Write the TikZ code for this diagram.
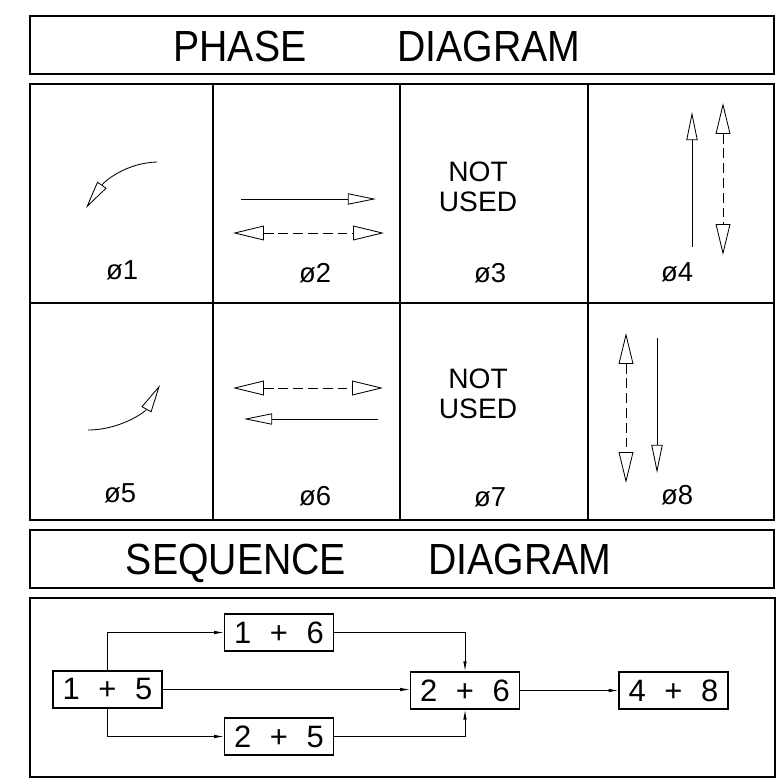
\documentclass[tikz,border=0pt]{standalone}
\usepackage{fontspec}
\setmainfont{Liberation Sans}
\newfontfamily\titlefont[FakeStretch=0.9]{Liberation Sans}
\usetikzlibrary{arrows.meta, positioning}

\tikzset{
  bigtip/.tip={Triangle[open,length=22pt,width=10.5pt]},
  smalltip/.tip={Triangle[open,length=20pt,width=8pt]},
  frame/.style={line width=1.2pt},
  oneway/.style={-smalltip, line width=0.6pt},
  twoway/.style={bigtip-bigtip, line width=0.6pt, dash pattern=on 7pt off 3.5pt},
  heading/.style={anchor=base, font=\fontsize{31}{34}\titlefont},
  phase/.style={font=\fontsize{19.5}{20}\selectfont},
  unused/.style={align=center, font=\fontsize{20}{21.3}\selectfont},
  seqbox/.style={draw, line width=0.9pt, inner sep=0pt, minimum width=2.72cm,
    minimum height=0.93cm, font=\fontsize{22}{24}\selectfont},
  flow/.style={-{Latex[length=7pt,width=2.5pt]}, line width=0.6pt}
}
\newcommand{\pair}[2]{#1\hspace{0.6em}+\hspace{0.6em}#2}

\begin{document}
\begin{tikzpicture}[x=0.025cm, y=-0.025cm]
  \useasboundingbox (0,0) rectangle (783,781);
  \draw[frame] (30,16) rectangle (774,74);
  \node[heading] (ptitle) at (240,62) {PHASE};
  \node[heading] (pdiag) at (489,62) {DIAGRAM};
  \draw[frame] (30,84) rectangle (774,520);
  \draw[line width=1pt] (213,84) -- (213,520) (400,84) -- (400,520)
    (588,84) -- (588,520) (30,303) -- (774,303);

  \draw[oneway] (157,162) .. controls (125,163) and (104,182) .. (86,208);
  \node[phase] (p1) at (122,270) {ø1};
  \draw[oneway] (241,199) -- (376,199);
  \draw[twoway] (233,233) -- (384,233);
  \node[phase] (p2) at (315,273) {ø2};
  \node[unused] (n3) at (478,187) {NOT\\USED};
  \node[phase] (p3) at (490,273) {ø3};
  \draw[oneway] (692,247) -- (692,112);
  \draw[twoway] (723,103) -- (723,255);
  \node[phase] (p4) at (677,272) {ø4};

  \draw[oneway] (88,430) .. controls (120,430) and (145,412) .. (160,385);
  \node[phase] (p5) at (120,493) {ø5};
  \draw[twoway] (233,388) -- (383,388);
  \draw[oneway] (378,419) -- (244,419);
  \node[phase] (p6) at (315,496) {ø6};
  \node[unused] (n7) at (478,394) {NOT\\USED};
  \node[phase] (p7) at (490,497) {ø7};
  \draw[twoway] (626,333) -- (626,483);
  \draw[oneway] (657,338) -- (657,473);
  \node[phase] (p8) at (677,495) {ø8};

  \draw[frame] (30,530) rectangle (774,588);
  \node[heading] (stitle) at (236,574) {SEQUENCE};
  \node[heading] (sdiag) at (520,574) {DIAGRAM};
  \draw[frame] (30,598) rectangle (775,777);

  \node[seqbox] (s15) at (107.5,689.5) {\pair{1}{5}};
  \node[seqbox] (s16) at (279,632.5) {\pair{1}{6}};
  \node[seqbox] (s25) at (279,736.5) {\pair{2}{5}};
  \node[seqbox] (s26) at (465,690.5) {\pair{2}{6}};
  \node[seqbox] (s48) at (673.5,690.5) {\pair{4}{8}};
  \draw[flow] (s15.north) |- (s16.west);
  \draw[flow] (s15.south) |- (s25.west);
  \draw[flow] (s15.east) -- (s15.east -| s26.west);
  \draw[flow] (s16.east) -| (s26.north);
  \draw[flow] (s25.east) -| (s26.south);
  \draw[flow] (s26.east) -- (s48.west);
\end{tikzpicture}
\end{document}
